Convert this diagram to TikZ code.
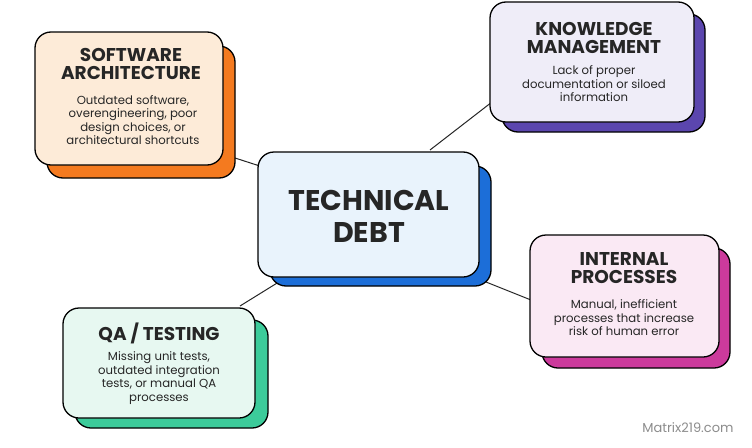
\documentclass[tikz,border=0pt]{standalone}
\usepackage{fontspec}
\setmainfont{Poppins}
\begin{document}
\begin{tikzpicture}[x=1pt,y=-1pt,
  box/.style={draw=black,line width=1.3pt,rounded corners=16pt,fill=#1},
  shad/.style={draw=black,line width=1.3pt,rounded corners=16pt,fill=#1},
  ttl/.style={font=\fontsize{18.5}{18.5}\selectfont\bfseries,align=center,text=black!85},
  body/.style={font=\fontsize{11.7}{13.5}\selectfont,align=center,text=black!85},
  conn/.style={line width=1pt,black!85}]
\definecolor{cblue}{HTML}{1C6ED8}\definecolor{fblue}{HTML}{E9F3FC}
\definecolor{corange}{HTML}{F47A1F}\definecolor{forange}{HTML}{FDEBD8}
\definecolor{cpurple}{HTML}{5B46AE}\definecolor{fpurple}{HTML}{EFEDF8}
\definecolor{cmag}{HTML}{CC3A9C}\definecolor{fmag}{HTML}{FAE9F4}
\definecolor{cgreen}{HTML}{3CCB9A}\definecolor{fgreen}{HTML}{E7F8F1}
\useasboundingbox[fill=white] (0,0) rectangle (752,447);
% connectors
\coordinate (c1) at (235,158);\coordinate (c2) at (430,150);
\coordinate (c3) at (486,282);\coordinate (c4) at (240,306);
\coordinate (d1) at (266,168);\coordinate (d2) at (492,102);
\coordinate (d3) at (531,300);\coordinate (d4) at (282,280);
\draw[conn] (c1)--(d1);\draw[conn] (c2)--(d2);\draw[conn] (c3)--(d3);\draw[conn] (c4)--(d4);
% software architecture
\draw[shad=corange] (47,46) rectangle (235,178);
\draw[box=forange] (35,32) rectangle (223,165);
\node[ttl] (sa) at (131,64) {SOFTWARE\\ARCHITECTURE};
\node[body] (sab) at (133,120) {Outdated software,\\overengineering, poor\\design choices, or\\architectural shortcuts};
% knowledge management
\draw[shad=cpurple] (502,14) rectangle (705,132);
\draw[box=fpurple] (490,2) rectangle (694,122);
\node[ttl] (km) at (594,38) {KNOWLEDGE\\MANAGEMENT};
\node[body] (kmb) at (594,84) {Lack of proper\\documentation or siloed\\information};
% central
\draw[shad=cblue] (270,166) rectangle (491,286);
\draw[box=fblue] (258,152) rectangle (479,277);
\node[font=\fontsize{28.5}{32}\selectfont\bfseries,align=center,text=black!85] (td) at (369,216) {TECHNICAL\\DEBT};
% internal processes
\draw[shad=cmag] (542,248) rectangle (730,368);
\draw[box=fmag] (530,235) rectangle (719,357);
\node[ttl] (ip) at (624,268) {INTERNAL\\PROCESSES};
\node[body] (ipb) at (624,318) {Manual, inefficient\\processes that increase\\risk of human error};
% QA testing
\draw[shad=cgreen] (75,320) rectangle (268,428);
\draw[box=fgreen] (63,308) rectangle (255,418);
\node[ttl] (qa) at (159,333) {QA / TESTING};
\node[body] (qab) at (159,378) {Missing unit tests,\\outdated integration\\tests, or manual QA\\processes};
\node[font=\fontsize{13}{15}\selectfont,text=black!45] (wm) at (688,428) {Matrix219.com};
\end{tikzpicture}
\end{document}
